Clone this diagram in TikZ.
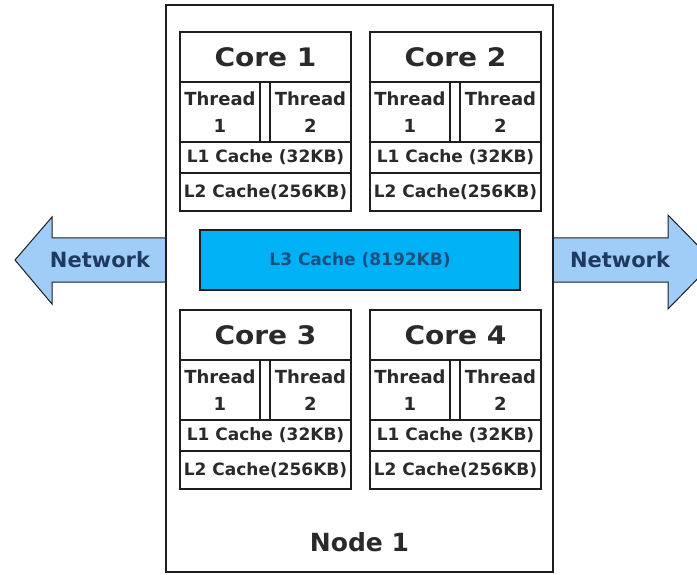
\documentclass[tikz,border=0pt]{standalone}
\usepackage{fontspec}
\setmainfont{DejaVu Sans}
\newfontfamily\widefont[FakeStretch=1.1]{DejaVu Sans}
\definecolor{linec}{HTML}{1E1E1E}
\definecolor{textc}{HTML}{2A2A2A}
\definecolor{lthree}{HTML}{00B2F5}
\definecolor{lthreetext}{HTML}{1B4F80}
\definecolor{arrowfill}{HTML}{A0CCF8}
\definecolor{nettext}{HTML}{1F3A60}
\newcommand\coretitlefont{\widefont\fontsize{25.5}{28}\selectfont\bfseries}
\newcommand\threadfont{\fontsize{18}{27}\selectfont\bfseries}
\newcommand\cachefont{\fontsize{17}{20}\selectfont\bfseries}
\newcommand\mkcore[4]{%
  \node[box, minimum width=171pt, minimum height=50pt, font=\coretitlefont] (#1title) at (#2,#3) {Core #4};
  \node[box, minimum width=80pt, minimum height=60pt, font=\threadfont] (#1tha) at (#2,#3+50) {Thread\\1};
  \node[box, minimum width=81pt, minimum height=60pt, font=\threadfont] (#1thb) at (#2+90,#3+50) {Thread\\2};
  \node[box, minimum width=171pt, minimum height=31pt, font=\cachefont] (#1lone) at (#2,#3+110) {L1 Cache (32KB)};
  \node[box, minimum width=171pt, minimum height=38pt, font=\cachefont] (#1ltwo) at (#2,#3+141) {L2 Cache(256KB)};
}
\begin{document}
\begin{tikzpicture}[x=1pt,y=-1pt,
  box/.style={draw=linec, line width=1.4pt, fill=white, anchor=north west, inner sep=0pt, outer sep=0pt, text=textc, align=center},
  netarrow/.style={draw=linec, line width=1pt, fill=arrowfill, line join=miter},
  nettxt/.style={font=\fontsize{21}{24}\selectfont\bfseries, text=nettext, inner sep=0pt}]
\useasboundingbox (0,0) rectangle (697,575);
\fill[white] (0,0) rectangle (697,575);
\begin{scope}
\clip (0,0) rectangle (697,575);
\draw[netarrow] (166,238) -- (52,238) -- (52,217) -- (15,260) -- (52,304) -- (52,282) -- (166,282) -- cycle;
\draw[netarrow] (553,238) -- (668,238) -- (668,215) -- (714,262) -- (668,309) -- (668,282) -- (553,282) -- cycle;
\end{scope}
\node[nettxt] (netl) at (100,260) {Network};
\node[nettxt] (netr) at (620,260) {Network};
\node[box, minimum width=387pt, minimum height=567pt, line width=1.2pt] (node1) at (166,5) {};
\node[font=\fontsize{25}{28}\selectfont\bfseries, text=textc] (node1label) at (359.5,542) {Node 1};
\mkcore{ca}{180}{32}{1}
\mkcore{cb}{370}{32}{2}
\mkcore{cc}{180}{310}{3}
\mkcore{cd}{370}{310}{4}
\node[box, fill=lthree, minimum width=320pt, minimum height=60pt, text=lthreetext, font=\fontsize{17}{20}\selectfont\bfseries] (lthreebox) at (200,230) {L3 Cache (8192KB)};
\end{tikzpicture}
\end{document}
